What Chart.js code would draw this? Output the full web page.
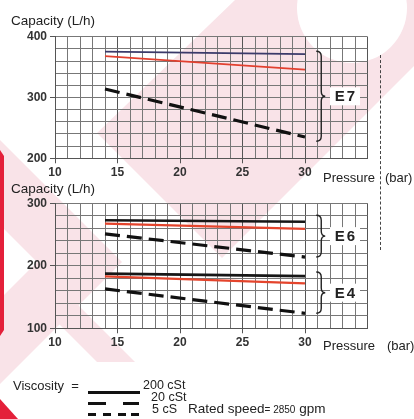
<!DOCTYPE html>
<html>
<head>
<meta charset="utf-8">
<script src="https://cdn.jsdelivr.net/npm/chart.js@4.4.0/dist/chart.umd.min.js"></script>
<style>
  html, body { margin: 0; padding: 0; background: #fff; }
  #page { position: relative; width: 414px; height: 419px; overflow: hidden;
          font-family: 'Liberation Sans', Arial, sans-serif; color: #222; }
  #bg, canvas.chart { position: absolute; left: 0; }
  #bg { top: 0; }
  .txt { position: absolute; white-space: nowrap; line-height: 1; }
  .key { position: absolute; background: #111; }
  #vline { position: absolute; left: 380px; top: 55px; height: 195px; border-left: 1px dashed #444; }
</style>
</head>
<body>
<div id="page">
  <canvas id="bg" width="414" height="419"></canvas>
  <canvas id="topChart" class="chart" width="414" height="190" style="top:0"></canvas>
  <canvas id="bottomChart" class="chart" width="414" height="170" style="top:190px"></canvas>
  <div id="vline"></div>

  <div class="txt" style="left:11px; top:13.6px; font-size:13.5px;">Capacity (L/h)</div>
  <div class="txt" style="left:11px; top:182px; font-size:13.5px;">Capacity (L/h)</div>
  <div class="txt" style="left:323px; top:171px; font-size:13px;">Pressure</div>
  <div class="txt" style="left:385px; top:171px; font-size:13px;">(bar)</div>
  <div class="txt" style="left:323px; top:339px; font-size:13px;">Pressure</div>
  <div class="txt" style="left:387px; top:339px; font-size:13px;">(bar)</div>

  <div class="txt" style="left:13px; top:379px; font-size:13px;">Viscosity &nbsp;=</div>
  <div class="key" style="left:88px; top:391px; width:52px; height:3px;"></div>
  <div class="txt" style="left:143px; top:379px; font-size:12.5px;">200 cSt</div>
  <div class="key" style="left:88px; top:402px; width:18px; height:3px;"></div>
  <div class="key" style="left:123px; top:402px; width:16px; height:3px;"></div>
  <div class="txt" style="left:151px; top:391px; font-size:12.5px;">20 cSt</div>
  <div class="key" style="left:88px; top:413px; width:8px; height:2.5px;"></div>
  <div class="key" style="left:103px; top:413px; width:8px; height:2.5px;"></div>
  <div class="key" style="left:118px; top:413px; width:8px; height:2.5px;"></div>
  <div class="key" style="left:131px; top:413px; width:8px; height:2.5px;"></div>
  <div class="txt" style="left:152px; top:402.5px; font-size:12.5px;">5 cS</div>
  <div class="txt" style="left:188px; top:402px; font-size:13.5px;">Rated speed<span style="font-size:10px">= 2850</span> gpm</div>
</div>

<script>
// pressure (bar) where each curve starts and ends
const pressure = [14, 30];

// capacity (L/h), pump E7
const e7Visc200 = [375.5, 371.5];
const e7Visc20 = [368, 346];
const e7Visc5 = [314, 235];

// capacity (L/h), pumps E6 and E4
const e6Visc200 = [273, 270.5];
const e6Visc20 = [267.5, 259];
const e6Visc5 = [251, 214];
const e4Visc200 = [187.5, 183.5];
const e4Visc20 = [183, 172];
const e4Visc5 = [163, 124];

// group braces: name and capacity range they cover
const topGroups = ['E7'];
const topGroupRange = [[376, 228]];
const bottomGroups = ['E6', 'E4'];
const bottomGroupRange = [[281, 214], [190, 124]];

const xMajor = [10, 15, 20, 25, 30];

function drawWatermark() {
    const c = document.getElementById('bg').getContext('2d');
    c.fillStyle = '#f9e3e8';
    // big diagonal band from the top right
    c.beginPath();
    c.moveTo(235, 0); c.lineTo(414, 0); c.lineTo(414, 66);
    c.lineTo(222, 258); c.lineTo(97, 133);
    c.closePath();
    c.fill();
    // lower left chevron
    c.beginPath();
    c.moveTo(0, 140); c.lineTo(122, 262); c.lineTo(0, 384);
    c.lineTo(0, 299); c.lineTo(37, 262); c.lineTo(0, 225);
    c.closePath();
    c.fill();
    c.beginPath();
    c.moveTo(40, 305); c.lineTo(78, 305); c.lineTo(135, 362); c.lineTo(97, 362);
    c.closePath();
    c.fill();
    // white round cut at the top
    c.fillStyle = '#fff';
    c.beginPath();
    c.arc(352, 8, 55, 0, Math.PI * 2);
    c.fill();
    // red bits at the edge
    c.fillStyle = '#e4203a';
    c.beginPath();
    c.moveTo(0, 150); c.lineTo(4, 156); c.lineTo(4, 330); c.lineTo(0, 336);
    c.closePath();
    c.fill();
    c.beginPath();
    c.moveTo(0, 399); c.lineTo(18, 419); c.lineTo(0, 419);
    c.closePath();
    c.fill();
}

function series(values) {
    return pressure.map((p, i) => ({ x: p, y: values[i] }));
}

function line(values, color, width, dash) {
    return {
        data: series(values),
        borderColor: color,
        borderWidth: width,
        borderDash: dash || [],
        pointRadius: 0,
        fill: false,
        tension: 0
    };
}

function drawBrace(ctx, x, yTop, yBot) {
    const ym = (yTop + yBot) / 2;
    const w = 5;
    ctx.beginPath();
    ctx.moveTo(x - w, yTop);
    ctx.quadraticCurveTo(x, yTop, x, yTop + w);
    ctx.lineTo(x, ym - w);
    ctx.quadraticCurveTo(x, ym, x + 4, ym);
    ctx.quadraticCurveTo(x, ym, x, ym + w);
    ctx.lineTo(x, yBot - w);
    ctx.quadraticCurveTo(x, yBot, x - w, yBot);
    ctx.stroke();
}

const bracePlugin = {
    id: 'braces',
    afterDatasetsDraw(chart, args, opts) {
        const ctx = chart.ctx;
        const xs = chart.scales.x;
        const ys = chart.scales.y;
        const bx = xs.getPixelForValue(31.3);
        const lx = xs.getPixelForValue(33.2);
        ctx.save();
        ctx.strokeStyle = '#222';
        ctx.lineWidth = 1.4;
        opts.names.forEach((name, i) => {
            const y1 = ys.getPixelForValue(opts.ranges[i][0]);
            const y2 = ys.getPixelForValue(opts.ranges[i][1]);
            drawBrace(ctx, bx, y1, y2);
            const ym = (y1 + y2) / 2;
            ctx.fillStyle = '#fff';
            ctx.fillRect(lx - 15, ym - 9, 30, 18);
            ctx.fillStyle = '#222';
            ctx.font = 'bold 15px "Liberation Sans", Arial, sans-serif';
            ctx.letterSpacing = '2px';
            ctx.textAlign = 'center';
            ctx.textBaseline = 'middle';
            ctx.fillText(name, lx + 1, ym + 1);
        });
        ctx.restore();
    }
};

function makeChart(id, yMin, yMax, datasets, names, ranges, padTop, padBottom) {
    const tickFont = { family: '"Liberation Sans", Arial, sans-serif', size: 12, weight: 'bold' };
    return new Chart(document.getElementById(id), {
        type: 'line',
        data: { datasets: datasets },
        options: {
            responsive: false,
            animation: false,
            layout: { padding: { left: 0, right: 46.5, top: padTop, bottom: padBottom } },
            plugins: {
                legend: { display: false },
                tooltip: { enabled: false },
                braces: { names: names, ranges: ranges }
            },
            scales: {
                x: {
                    type: 'linear',
                    min: 10,
                    max: 35,
                    afterFit: s => { s.height = 20; },
                    ticks: {
                        stepSize: 1,
                        autoSkip: false,
                        maxRotation: 0,
                        padding: 2,
                        color: '#333',
                        font: tickFont,
                        callback: v => xMajor.includes(v) ? v : ''
                    },
                    grid: {
                        color: ctx => ctx.tick && ctx.tick.value % 5 === 0 ? '#555' : '#777',
                        lineWidth: 1,
                        tickLength: 5,
                        tickColor: ctx => ctx.tick && xMajor.includes(ctx.tick.value) ? '#555' : 'rgba(0,0,0,0)'
                    },
                    border: { color: '#555' }
                },
                y: {
                    min: yMin,
                    max: yMax,
                    afterFit: s => { s.width = 55; },
                    ticks: {
                        stepSize: 20,
                        autoSkip: false,
                        padding: 3,
                        color: '#333',
                        font: tickFont,
                        callback: v => v % 100 === 0 ? v : ''
                    },
                    grid: {
                        color: '#777',
                        lineWidth: 1,
                        tickLength: 5,
                        tickColor: ctx => ctx.tick && ctx.tick.value % 100 === 0 ? '#555' : 'rgba(0,0,0,0)'
                    },
                    border: { color: '#555' }
                }
            }
        },
        plugins: [bracePlugin]
    });
}

drawWatermark();

makeChart('topChart', 200, 400, [
    line(e7Visc200, '#3b3a6a', 1.8),
    line(e7Visc20, '#e2402f', 1.8),
    line(e7Visc5, '#111', 3.2, [15, 7])
], topGroups, topGroupRange, 36.7, 11.7);

makeChart('bottomChart', 100, 300, [
    line(e6Visc200, '#161616', 2.6),
    line(e6Visc20, '#e4442c', 2.3),
    line(e6Visc5, '#111', 3.2, [15, 7]),
    line(e4Visc200, '#161616', 2.6),
    line(e4Visc20, '#e4442c', 2.3),
    line(e4Visc5, '#111', 3.2, [15, 7])
], bottomGroups, bottomGroupRange, 13.3, 11.7);
</script>
</body>
</html>
